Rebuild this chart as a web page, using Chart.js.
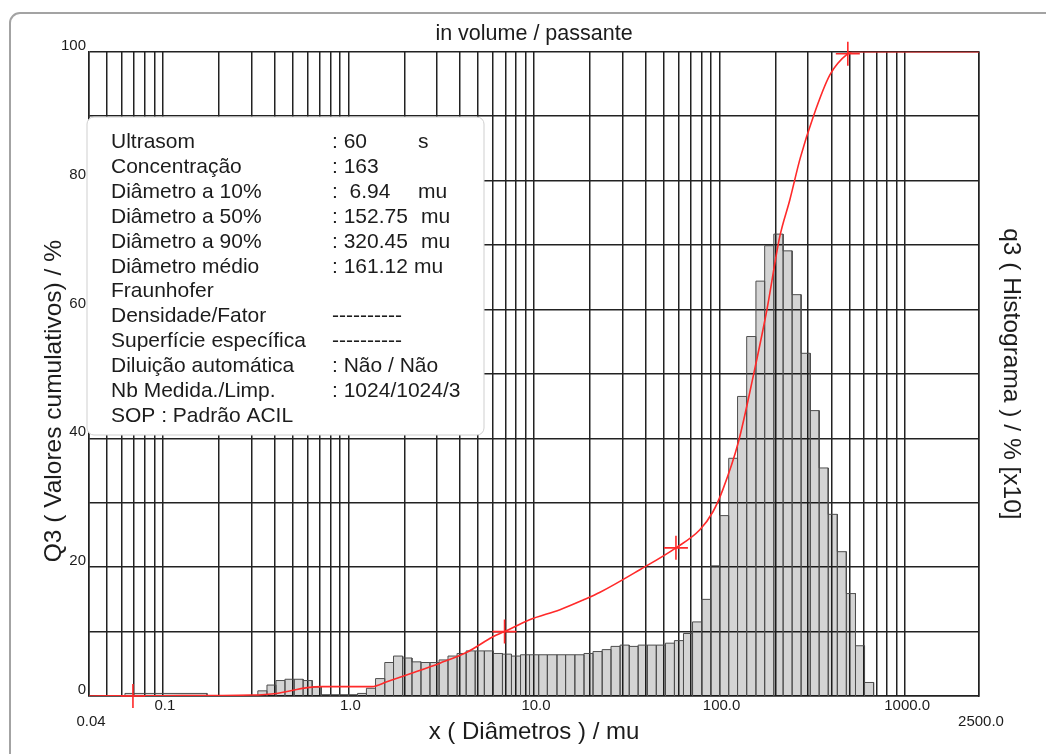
<!DOCTYPE html>
<html>
<head>
<meta charset="utf-8">
<script src="https://cdn.jsdelivr.net/npm/chart.js@4/dist/chart.umd.min.js"></script>
<style>
  html, body { margin: 0; padding: 0; background: #fff; }
  canvas { display: block; }
</style>
</head>
<body>
<canvas id="c" width="1046" height="754"></canvas>
<script>
const FONT = "'Liberation Sans', Arial, Helvetica, sans-serif";

// Histogram classes: limits in µm and q3 heights (plotted on the 0-100 axis)
const binEdges = [
  0.0625, 0.173, 0.325, 0.364, 0.407, 0.455, 0.510, 0.570, 0.638, 0.714, 0.799, 0.894,
  1.00, 1.12, 1.25, 1.40, 1.57, 1.75, 1.96, 2.20, 2.46, 2.75, 3.08, 3.44, 3.85, 4.31,
  4.82, 5.40, 6.04, 6.76, 7.56, 8.46, 9.46, 10.6, 11.8, 13.3, 14.8, 16.6, 18.6, 20.8,
  23.3, 26.0, 29.1, 32.6, 36.4, 40.8, 45.6, 51.1, 57.1, 63.9, 71.5, 80.0, 89.6, 100,
  112, 125, 140, 157, 175, 196, 220, 246, 275, 308, 344, 385, 431, 482, 540, 604, 676
];
const binHeights = [
  0.4, 0.0, 0.8, 1.7, 2.4, 2.6, 2.6, 2.4, 1.4, 0.2, 0.2, 0.2,
  0.2, 0.4, 1.2, 2.7, 5.2, 6.2, 5.9, 5.3, 5.2, 5.2, 5.6, 6.2, 6.6, 7.0,
  7.0, 7.0, 6.6, 6.5, 6.2, 6.4, 6.4, 6.4, 6.4, 6.4, 6.4, 6.4, 6.6, 6.9,
  7.2, 7.7, 7.9, 7.7, 7.9, 7.9, 7.9, 8.2, 8.6, 9.7, 11.5, 15.0, 20.2,
  28.0, 36.9, 46.5, 55.8, 64.4, 69.9, 71.7, 69.1, 62.3, 53.2, 44.3, 35.4,
  28.2, 22.4, 15.9, 7.8, 2.1
];

// Cumulative Q3 curve (% passing) against diameter in µm
const cumSize = [0.04, 0.1, 0.3, 0.41, 0.6, 0.72, 1.0, 1.34, 1.61, 2.23, 3.11, 4.35, 6.01,
  6.94, 9.4, 13.8, 18.4, 22.7, 37.2, 58.2, 78.3, 92.1, 104, 126, 152.75, 180, 211, 239,
  272, 320.45, 393, 491, 520, 2500];
const cumPct = [0, 0.05, 0.15, 0.4, 1.3, 1.45, 1.45, 1.45, 2.2, 3.6, 5.1, 6.8, 9.2,
  10, 11.8, 13.4, 14.9, 16.1, 19.6, 23.0, 25.8, 28.6, 32.0, 39.3, 50, 60, 71.3, 77.0,
  83.5, 90, 96.4, 99.7, 100, 100];

// Marked points on the cumulative curve
const markSize = [0.069, 6.94, 58.2, 491];
const markPct = [0, 10, 23.0, 99.7];

// Axis grid and tick labels
const xGridValues = [0.04, 0.05, 0.06, 0.07, 0.08, 0.09,
  0.1, 0.2, 0.3, 0.4, 0.5, 0.6, 0.7, 0.8, 0.9,
  1, 2, 3, 4, 5, 6, 7, 8, 9,
  10, 20, 30, 40, 50, 60, 70, 80, 90,
  100, 200, 300, 400, 500, 600, 700, 800, 900,
  1000, 2500];
const xLabelValues = [0.04, 0.1, 1, 10, 100, 1000, 2500];
const xLabelTexts = ['0.04', '0.1', '1.0', '10.0', '100.0', '1000.0', '2500.0'];
const xLowerRowLabels = ['0.04', '2500.0'];
const yLabelValues = [0, 20, 40, 60, 80, 100];

// Measurement report block
const infoLabels = ['Ultrasom', 'Concentração', 'Diâmetro a 10%', 'Diâmetro a 50%',
  'Diâmetro a 90%', 'Diâmetro médio', 'Fraunhofer', 'Densidade/Fator',
  'Superfície específica', 'Diluição automática', 'Nb Medida./Limp.', 'SOP : Padrão ACIL'];
const infoValues = [': 60', ': 163', ':  6.94', ': 152.75', ': 320.45', ': 161.12', '',
  '----------', '----------', ': Não / Não', ': 1024/1024/3', ''];
const infoUnits = ['s', '', 'mu', 'mu', 'mu', 'mu', '', '', '', '', '', ''];

// Histogram drawn as one outlined, filled path: up, across, down for every class
const histPoints = [];
for (let i = 0; i < binHeights.length; i++) {
  const l = binEdges[i], r = binEdges[i + 1], h = binHeights[i];
  histPoints.push({x: l, y: 0}, {x: l, y: h}, {x: r, y: h}, {x: r, y: 0});
}
const cumPoints = cumSize.map((x, i) => ({x, y: cumPct[i]}));
const markPoints = markSize.map((x, i) => ({x, y: markPct[i]}));

const frame = {
  id: 'frame',
  beforeDraw(chart) {
    const ctx = chart.ctx;
    ctx.save();
    ctx.strokeStyle = '#a3a3a3';
    ctx.lineWidth = 2;
    ctx.beginPath();
    ctx.roundRect(10, 13, 1100, 800, 10);
    ctx.stroke();
    ctx.restore();
  }
};

const infoBox = {
  id: 'infoBox',
  afterDraw(chart) {
    const ctx = chart.ctx;
    ctx.save();
    ctx.beginPath();
    ctx.roundRect(87, 117, 397, 318, 7);
    ctx.fillStyle = '#ffffff';
    ctx.fill();
    ctx.strokeStyle = '#cfcfcf';
    ctx.lineWidth = 1;
    ctx.stroke();
    ctx.font = '21px ' + FONT;
    ctx.fillStyle = '#1c1c1c';
    ctx.textBaseline = 'alphabetic';
    ctx.textAlign = 'left';
    const unitX = [418, 0, 418, 421, 421, 414];
    for (let i = 0; i < infoLabels.length; i++) {
      const y = 148 + i * 24.9;
      ctx.fillText(infoLabels[i], 111, y);
      if (infoValues[i]) ctx.fillText(infoValues[i], 332, y);
      if (infoUnits[i]) ctx.fillText(infoUnits[i], unitX[i], y);
    }
    ctx.restore();
  }
};

const GRID = '#222222';

new Chart(document.getElementById('c'), {
  type: 'line',
  data: {
    datasets: [
      {
        type: 'scatter',
        data: markPoints,
        showLine: false,
        pointStyle: 'cross',
        pointRadius: 12,
        pointHoverRadius: 12,
        borderColor: '#ff2a2a',
        borderWidth: 1.6,
        clip: false,
        order: 0
      },
      {
        data: cumPoints,
        borderColor: '#ff2a2a',
        borderWidth: 1.6,
        pointRadius: 0,
        cubicInterpolationMode: 'monotone',
        fill: false,
        order: 1
      },
      {
        data: histPoints,
        borderColor: '#4d4d4d',
        borderWidth: 1,
        backgroundColor: 'rgba(0,0,0,0.17)',
        fill: 'origin',
        pointRadius: 0,
        tension: 0,
        order: 2
      }
    ]
  },
  options: {
    responsive: false,
    devicePixelRatio: 1,
    animation: false,
    events: [],
    layout: { padding: 0 },
    plugins: {
      legend: { display: false },
      tooltip: { enabled: false },
      title: {
        display: true,
        fullSize: false,
        text: 'in volume / passante',
        color: '#1c1c1c',
        font: { family: FONT, size: 21.5, weight: 'normal' },
        padding: { top: 21, bottom: 5 }
      }
    },
    scales: {
      x: {
        type: 'logarithmic',
        min: 0.04,
        max: 2500,
        afterBuildTicks: (s) => { s.ticks = xGridValues.map(v => ({ value: v })); },
        afterFit: (s) => { s.height = 58; },
        ticks: {
          autoSkip: false,
          maxRotation: 0,
          minRotation: 0,
          padding: 2,
          labelOffset: 2,
          color: '#1c1c1c',
          font: { family: FONT, size: 15, lineHeight: 1.05 },
          callback: (v) => {
            const i = xLabelValues.indexOf(v);
            if (i < 0) return '';
            const t = xLabelTexts[i];
            return xLowerRowLabels.includes(t) ? ['', t] : t;
          }
        },
        grid: { color: GRID, lineWidth: 1.5, drawTicks: false },
        border: { display: true, color: GRID, width: 1.5 },
        title: {
          display: true,
          text: 'x ( Diâmetros ) / mu',
          color: '#1c1c1c',
          font: { family: FONT, size: 24 },
          padding: { top: 0, bottom: 7 }
        }
      },
      y: {
        position: 'left',
        min: 0,
        max: 100,
        afterFit: (s) => { s.width = 89; },
        ticks: {
          stepSize: 10,
          autoSkip: false,
          padding: 3,
          labelOffset: -6,
          color: '#1c1c1c',
          font: { family: FONT, size: 15 },
          callback: (v) => yLabelValues.includes(v) ? String(v) : ''
        },
        grid: { color: GRID, lineWidth: 1.5, drawTicks: false },
        border: { display: true, color: GRID, width: 1.5 },
        title: {
          display: true,
          text: 'Q3 ( Valores cumulativos) / %        ',
          color: '#1c1c1c',
          font: { family: FONT, size: 24.5 },
          padding: { top: 40, bottom: 0 }
        }
      },
      y2: {
        position: 'right',
        min: 0,
        max: 100,
        afterFit: (s) => { s.width = 67; },
        ticks: { display: false },
        grid: { display: false, drawTicks: false },
        border: { display: true, color: GRID, width: 1.5 },
        title: {
          display: true,
          text: 'q3 ( Histograma ) / % [x10]',
          color: '#1c1c1c',
          font: { family: FONT, size: 24.5 },
          padding: { top: 21, bottom: 0 }
        }
      }
    }
  },
  plugins: [frame, infoBox]
});
</script>
</body>
</html>
